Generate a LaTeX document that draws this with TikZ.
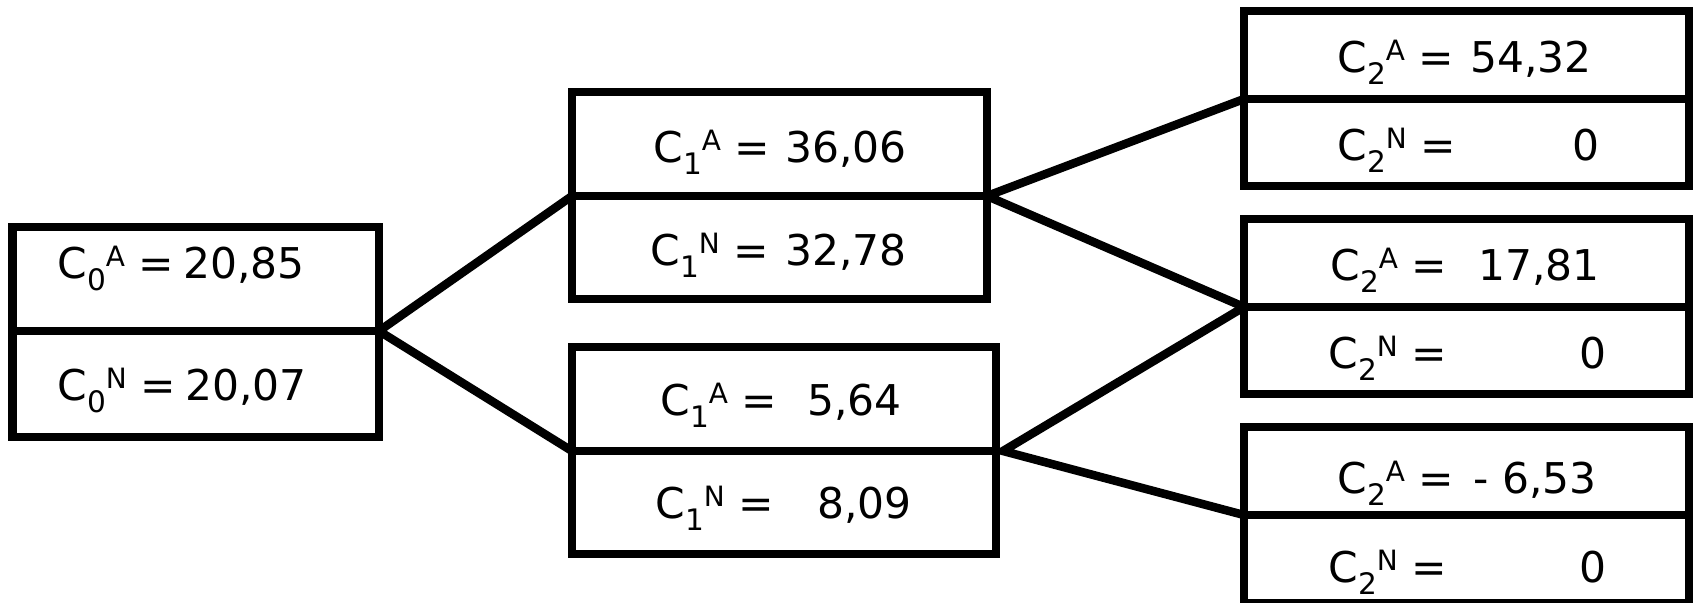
\documentclass[tikz,border=0pt]{standalone}
\usepackage{fontspec}
\setmainfont{DejaVu Sans}
\newcommand{\clab}[2]{C\raisebox{-6pt}{\fontsize{14.8}{14.8}\selectfont #1}\raisebox{5.6pt}{\fontsize{14}{14}\selectfont #2}\ =}
\tikzset{
  half/.style={draw, line width=4.25pt, inner sep=0pt, outer sep=0pt, rectangle},
  conn/.style={line width=4.25pt, line join=miter},
  lab/.style={anchor=base west, inner sep=0pt, font=\fontsize{21.2}{21.2}\selectfont},
  num/.style={anchor=base east, inner sep=0pt, font=\fontsize{21.2}{21.2}\selectfont},
}
\begin{document}
\begin{tikzpicture}[x=0.5pt, y=-0.5pt]
\useasboundingbox (0,0) rectangle (1694,602);
% box 0
\node[half, minimum width=183.25pt, minimum height=52pt] (b0t) at (195.75,279) {};
\node[half, minimum width=183.25pt, minimum height=53pt] (b0b) at (195.75,384) {};
% box 1
\node[half, minimum width=207.5pt, minimum height=52pt] (b1t) at (779.5,144) {};
\node[half, minimum width=207.5pt, minimum height=51.5pt] (b1b) at (779.5,247.5) {};
% box 2
\node[half, minimum width=212pt, minimum height=52pt] (b2t) at (784,399) {};
\node[half, minimum width=212pt, minimum height=51.5pt] (b2b) at (784,502.5) {};
% box 3
\node[half, minimum width=222.5pt, minimum height=44pt] (b3t) at (1466.5,55) {};
\node[half, minimum width=222.5pt, minimum height=43.5pt] (b3b) at (1466.5,142.5) {};
% box 4
\node[half, minimum width=222.5pt, minimum height=44pt] (b4t) at (1466.5,263) {};
\node[half, minimum width=222.5pt, minimum height=43.5pt] (b4b) at (1466.5,350.5) {};
% box 5
\node[half, minimum width=222.5pt, minimum height=44pt] (b5t) at (1466.5,471) {};
\node[half, minimum width=222.5pt, minimum height=44pt] (b5b) at (1466.5,559) {};
% connectors
\coordinate (j2) at ([xshift=3.5pt]b2t.south east);
\draw[conn] (b1t.south west) -- (b0t.south east) -- (b2t.south west);
\draw[conn] (b3t.south west) -- (b1t.south east) -- (b4t.south west);
\draw[conn] (b4t.south west) -- (j2) -- (b5t.south west);
% texts
\node[lab] (l0a) at (57,278) {\clab{0}{A}};
\node[num] (n0a) at (305,278) {20,85};
\node[lab] (l0n) at (57,400) {\clab{0}{N}};
\node[num] (n0n) at (307,400) {20,07};
\node[lab] (l1a) at (653,162) {\clab{1}{A}};
\node[num] (n1a) at (907,162) {36,06};
\node[lab] (l1n) at (650,265) {\clab{1}{N}};
\node[num] (n1n) at (907,265) {32,78};
\node[lab] (l2a) at (660,415) {\clab{1}{A}};
\node[num] (n2a) at (902,415) {5,64};
\node[lab] (l2n) at (655,518) {\clab{1}{N}};
\node[num] (n2n) at (912,518) {8,09};
\node[lab] (l3a) at (1337,72) {\clab{2}{A}};
\node[num] (n3a) at (1592,72) {54,32};
\node[lab] (l3n) at (1337,160) {\clab{2}{N}};
\node[num] (n3n) at (1600,160) {0};
\node[lab] (l4a) at (1330,280) {\clab{2}{A}};
\node[num] (n4a) at (1600,280) {17,81};
\node[lab] (l4n) at (1328,368) {\clab{2}{N}};
\node[num] (n4n) at (1607,368) {0};
\node[lab] (l5a) at (1337,493) {\clab{2}{A}};
\node[num] (n5a) at (1597,493) {- 6,53};
\node[lab] (l5n) at (1328,582) {\clab{2}{N}};
\node[num] (n5n) at (1607,582) {0};
\end{tikzpicture}
\end{document}
